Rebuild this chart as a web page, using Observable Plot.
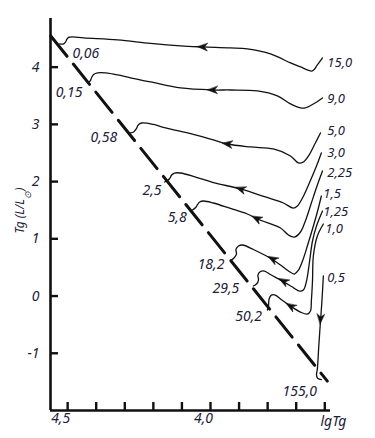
<!DOCTYPE html>
<html><head><meta charset="utf-8">
<script src="https://cdn.jsdelivr.net/npm/d3@7"></script>
<script src="https://cdn.jsdelivr.net/npm/@observablehq/plot@0.6"></script>
<style>
html,body{margin:0;padding:0;background:#fff;}
#chart svg{display:block;}
</style>
</head><body><div id="chart"></div>
<script>
// Track labels: stellar masses (solar masses) and ages on reaching the main sequence
const masses = ["15,0","9,0","5,0","3,0","2,25","1,5","1,25","1,0","0,5"];
const ages = ["0,06","0,15","0,58","2,5","5,8","18,2","29,5","50,2","155,0"];

// Evolutionary tracks [lgT, lg(L/Lsun)], from start (right) to main sequence
const track15 = [[3.608,4.161],[3.626,4.038],[3.643,3.934],[3.685,4.003],[3.720,4.073],[3.790,4.231],[3.871,4.318],[3.930,4.336],[4.028,4.353],[4.105,4.371],[4.210,4.414],[4.325,4.476],[4.444,4.510],[4.483,4.528],[4.497,4.519],[4.503,4.484],[4.507,4.441],[4.514,4.406],[4.528,4.406]];
const track9 = [[3.608,3.462],[3.640,3.357],[3.668,3.287],[3.685,3.287],[3.720,3.357],[3.766,3.497],[3.836,3.584],[3.930,3.601],[3.993,3.601],[4.105,3.636],[4.210,3.741],[4.280,3.811],[4.325,3.864],[4.367,3.899],[4.395,3.899],[4.409,3.872],[4.416,3.820],[4.421,3.759],[4.430,3.724]];
const track5 = [[3.615,2.850],[3.633,2.675],[3.657,2.448],[3.675,2.343],[3.692,2.325],[3.720,2.448],[3.780,2.570],[3.860,2.605],[3.941,2.657],[3.990,2.727],[4.080,2.850],[4.157,2.937],[4.199,2.998],[4.241,3.024],[4.253,2.990],[4.260,2.920],[4.269,2.867],[4.280,2.850]];
const track3 = [[3.612,2.500],[3.629,2.273],[3.654,1.976],[3.678,1.713],[3.696,1.573],[3.710,1.538],[3.745,1.626],[3.808,1.731],[3.895,1.871],[3.990,1.984],[4.052,2.080],[4.105,2.150],[4.126,2.150],[4.136,2.115],[4.143,2.054],[4.150,2.019],[4.161,1.993]];
const track225 = [[3.608,2.185],[3.626,1.941],[3.647,1.626],[3.668,1.311],[3.685,1.119],[3.706,1.031],[3.727,1.066],[3.755,1.189],[3.836,1.346],[3.871,1.434],[3.930,1.530],[3.990,1.626],[4.024,1.661],[4.038,1.643],[4.045,1.600],[4.052,1.547],[4.063,1.503]];
const track15s = [[3.612,1.748],[3.626,1.469],[3.643,1.171],[3.661,0.874],[3.678,0.612],[3.692,0.455],[3.706,0.385],[3.727,0.437],[3.755,0.542],[3.783,0.638],[3.818,0.734],[3.850,0.813],[3.888,0.892],[3.902,0.874],[3.911,0.813],[3.909,0.734],[3.918,0.664],[3.930,0.612]];
const track125 = [[3.608,1.486],[3.629,1.224],[3.643,0.962],[3.654,0.577],[3.664,0.262],[3.675,0.105],[3.689,0.087],[3.713,0.157],[3.745,0.253],[3.790,0.376],[3.811,0.437],[3.825,0.428],[3.834,0.367],[3.832,0.280],[3.839,0.210],[3.850,0.175]];
const track10 = [[3.605,1.259],[3.626,1.049],[3.640,0.699],[3.643,0.262],[3.647,-0.087],[3.650,-0.262],[3.661,-0.315],[3.685,-0.280],[3.720,-0.175],[3.755,-0.052],[3.773,0.017],[3.787,0.017],[3.795,-0.052],[3.797,-0.175],[3.801,-0.245]];
const track05 = [[3.605,0.350],[3.610,-0.087],[3.615,-0.437],[3.621,-0.874],[3.626,-1.276],[3.629,-1.381],[3.624,-1.442],[3.612,-1.460]];
const tracks = [track15, track9, track5, track3, track225, track15s, track125, track10, track05];

// Label anchor points (left end of text)
const massLabelX = [3.591,3.591,3.591,3.591,3.591,3.605,3.605,3.598,3.591];
const massLabelY = [4.073,3.444,2.885,2.500,2.150,1.790,1.480,1.170,0.315];
const ageLabelX = [4.483,4.542,4.420,4.238,4.150,4.045,3.993,3.913,3.748];
const ageLabelY = [4.231,3.549,2.762,1.836,1.364,0.559,0.140,-0.350,-1.661];

// Direction arrows, one on each track
const arrowX = [4.028,3.993,3.941,3.895,3.839,3.783,3.745,3.720,3.615];
const arrowY = [4.353,3.601,2.657,1.871,1.355,0.647,0.262,-0.175,-0.402];

// Zero-age main sequence (dashed)
const zams = [[4.559,4.545],[3.591,-1.486]];

// Axes
const xDomain = [4.56, 3.58];
const yDomain = [-2, 4.85];
const xTicks = [4.5,4.4,4.3,4.2,4.1,4.0,3.9,3.8,3.7,3.6];
const xTickLabels = [4.5, 4.0];
const yTicks = [4,3,2,1,0,-1];

const W = 375, H = 438, mL = 50, mR = 45, mT = 18, mB = 28;
const ink = "#111";
const navy = "#1c2038";

const sx = d3.scaleLinear(xDomain, [mL, W - mR]);
const sy = d3.scaleLinear(yDomain, [H - mB, mT]);
function dirAt(track, x, y) {
  const px = sx(x), py = sy(y);
  let best = Infinity, ang = 0;
  for (let i = 0; i < track.length - 1; i++) {
    const ax = sx(track[i][0]), ay = sy(track[i][1]);
    const bx = sx(track[i+1][0]), by = sy(track[i+1][1]);
    const dx = bx - ax, dy = by - ay, L2 = dx*dx + dy*dy || 1;
    let t = ((px-ax)*dx + (py-ay)*dy) / L2; t = Math.max(0, Math.min(1, t));
    const qx = ax + t*dx - px, qy = ay + t*dy - py, d2 = qx*qx + qy*qy;
    if (d2 < best) { best = d2; ang = Math.atan2(dx, -dy) * 180 / Math.PI; }
  }
  return ang;
}
const arrowIdx = d3.range(arrowX.length);
const arrowRot = arrowIdx.map(i => dirAt(tracks[i], arrowX[i], arrowY[i]));

const barb = {
  draw(ctx, l) {
    const w = l * 0.38;
    ctx.moveTo(0, -l);
    ctx.lineTo(-w, 0);
    ctx.lineTo(0, -l * 0.3);
    ctx.lineTo(w, 0);
    ctx.closePath();
  }
};

const fmt = d => d.toFixed(1).replace(".", ",");
const italic = {fontStyle: "italic", fontSize: 14, fill: navy};

const plot = Plot.plot({
  width: W, height: H,
  marginLeft: mL, marginRight: mR, marginTop: mT, marginBottom: mB,
  style: {fontFamily: "'Noto Sans', sans-serif", fontSize: "14px", background: "#fff", overflow: "visible"},
  x: {domain: xDomain},
  y: {domain: yDomain},
  marks: [
    Plot.ruleX([xDomain[0]], {stroke: ink, strokeWidth: 2.6}),
    Plot.ruleY([yDomain[0]], {stroke: ink, strokeWidth: 2.6}),
    Plot.axisY({ticks: yTicks, tickSize: 8, dx: 8, fill: "none", label: null, strokeWidth: 2.4, stroke: ink}),
    Plot.axisY({ticks: yTicks, tickSize: 0, tickPadding: 11, tickFormat: d => String(d), label: null, ...italic}),
    Plot.axisX({ticks: xTicks, tickSize: 8, dy: -8, fill: "none", label: null, strokeWidth: 2.4, stroke: ink}),
    Plot.axisX({ticks: xTickLabels, tickSize: 0, tickPadding: 3, dx: -7, tickFormat: fmt, label: null, ...italic}),
    Plot.text(["lgTg"], {frameAnchor: "bottom-right", dx: -10, dy: 11, textAnchor: "start", lineAnchor: "middle", ...italic}),
    Plot.text(["Tg (L/L\u2299)"], {frameAnchor: "left", textAnchor: "middle", rotate: -90, dx: -30, dy: -4, fontStyle: "italic", fontSize: 12, fill: navy}),
    Plot.line(zams, {x: d => d[0], y: d => d[1], stroke: ink, strokeWidth: 3, strokeDasharray: "26,10"}),
    ...tracks.map(t => Plot.line(t, {x: d => d[0], y: d => d[1], curve: "catmull-rom", stroke: ink, strokeWidth: 1.3})),
    Plot.vector(arrowIdx, {x: i => arrowX[i], y: i => arrowY[i], rotate: i => arrowRot[i], length: 10, shape: barb, anchor: "middle", fill: ink, stroke: ink, strokeWidth: 0.5}),
    Plot.text(masses, {x: (d, i) => massLabelX[i], y: (d, i) => massLabelY[i], text: d => d, textAnchor: "start", ...italic, fontSize: 13}),
    Plot.text(ages, {x: (d, i) => ageLabelX[i], y: (d, i) => ageLabelY[i], text: d => d, textAnchor: "start", ...italic})
  ]
});

// subscript sun symbol in the y label
d3.select(plot).selectAll("text").each(function() {
  if (this.textContent === "Tg (L/L\u2299)") {
    const el = d3.select(this);
    el.text(null);
    el.append("tspan").text("Tg (L/L");
    el.append("tspan").attr("baseline-shift", "sub").attr("font-size", "9").text("\u2299");
    el.append("tspan").text(")");
  }
});

document.getElementById("chart").appendChild(plot);
</script>
</body></html>
